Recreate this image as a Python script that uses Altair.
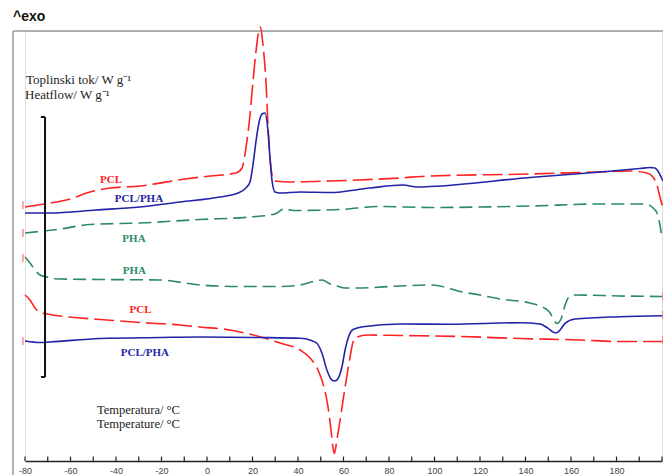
import altair as alt
import pandas as pd

# ---- data: temperature (°C) and heat flow (a.u., exo up) ----
pcl_heat_T = [-80, -71.2, -60.2, -51.4, -42.6, -29.5, -9.7, 1.3, 12.7, 15.4, 17.1, 18.9, 20.2, 21.5, 22.6, 23.5,
              24.6, 26.0, 26.8, 27.7, 28.6, 29.9, 36.5, 54.1, 84.8, 98, 142, 171.4, 185.9, 193.4, 196, 197.8, 199.1, 200.4]
pcl_heat_hf = [2.54, 2.57, 2.62, 2.69, 2.73, 2.75, 2.82, 2.85, 2.88, 2.93, 3.13, 3.46, 3.79, 4.09, 4.28, 4.34,
               4.16, 3.76, 3.36, 3.03, 2.86, 2.80, 2.79, 2.80, 2.83, 2.85, 2.87, 2.89, 2.90, 2.88, 2.84, 2.76, 2.64, 2.53]

blend_heat_T = [-80, -69, -48.8, -29.5, -11.9, 5.7, 13.6, 17.1, 18.9, 20.2, 21.5, 22.9, 24.2, 25.5, 26.8, 27.7,
                28.6, 29.9, 32.1, 40.9, 54.1, 71.6, 86.2, 92.3, 98, 142, 175.8, 190.3, 194.7, 196.9, 198.2, 199.6, 200.4]
blend_heat_hf = [2.48, 2.48, 2.51, 2.54, 2.59, 2.64, 2.68, 2.73, 2.79, 2.96, 3.19, 3.39, 3.47, 3.48, 3.30, 3.03,
                 2.80, 2.69, 2.68, 2.69, 2.685, 2.73, 2.76, 2.74, 2.745, 2.835, 2.895, 2.925, 2.935, 2.93, 2.90, 2.84, 2.80]

pha_heat_T = [-80, -64.6, -51.4, -29.5, -3.1, 18.9, 29.9, 33.8, 35.6, 38.7, 58.5, 76, 98, 142, 172.7, 192.5,
              195.6, 197.8, 199.1, 200]
pha_heat_hf = [2.28, 2.32, 2.365, 2.38, 2.415, 2.44, 2.47, 2.52, 2.515, 2.505, 2.515, 2.545, 2.535, 2.55, 2.57,
               2.57, 2.54, 2.48, 2.36, 2.23]

pha_cool_T = [-80, -77.8, -75.6, -73.4, -70.3, -64.6, -47, -20.7, -9.7, -3.1, 14.5, 32.1, 40.9, 47.5, 50.5, 54.1,
              57.1, 60.7, 65.9, 84.8, 98, 102.4, 111.2, 120, 128.8, 142, 146.4, 149, 150.8, 152.5, 153.8, 155.6,
              157.4, 159.1, 161.8, 181.5, 200]
pha_cool_hf = [2.04, 1.98, 1.91, 1.86, 1.84, 1.82, 1.815, 1.81, 1.78, 1.76, 1.745, 1.745, 1.76, 1.80, 1.81, 1.77,
               1.75, 1.73, 1.73, 1.75, 1.76, 1.75, 1.695, 1.66, 1.62, 1.58, 1.55, 1.52, 1.48, 1.41, 1.375, 1.42,
               1.56, 1.64, 1.66, 1.65, 1.645]

pcl_cool_T = [-80, -77.8, -75.6, -73.4, -70.3, -64.6, -55.8, -47, -29.5, -11.9, -3.1, 10.1, 22, 32.1, 40.9, 45.3,
              48.8, 51.4, 53.2, 54.5, 55.4, 56, 57.1, 58.5, 60.7, 62.9, 64.2, 66, 70.3, 84.8, 111.2, 137.6, 164,
              181.5, 200]
pcl_cool_hf = [1.66, 1.61, 1.53, 1.485, 1.47, 1.45, 1.43, 1.415, 1.385, 1.36, 1.34, 1.31, 1.25, 1.18, 1.11, 1.03,
               0.91, 0.74, 0.54, 0.31, 0.13, 0.075, 0.21, 0.41, 0.74, 1.04, 1.19, 1.24, 1.26, 1.255, 1.245, 1.225,
               1.21, 1.195, 1.195]

blend_cool_T = [-80, -73.4, -69, -47, -20.7, -3.1, 23.3, 40.9, 45.3, 48.4, 50.5, 52.7, 54.5, 55.8, 57.1, 59.3,
                60.7, 62.2, 64.2, 68.6, 84.8, 106.8, 137.6, 146.4, 149.9, 152.1, 153.4, 155.2, 157.4, 161.8, 181.5, 200]
blend_cool_hf = [1.20, 1.185, 1.19, 1.225, 1.235, 1.24, 1.235, 1.227, 1.21, 1.175, 1.08, 0.91, 0.82, 0.80, 0.81,
                 0.94, 1.11, 1.24, 1.315, 1.343, 1.37, 1.367, 1.383, 1.37, 1.327, 1.29, 1.28, 1.31, 1.377, 1.42,
                 1.443, 1.453]

# curve labels: text, temperature, heat flow
label_texts = ["PCL", "PCL/PHA", "PHA", "PHA", "PCL", "PCL/PHA"]
label_T = [-42.2, -29.9, -32.1, -31.9, -29.2, -27.3]
label_hf = [2.81, 2.62, 2.225, 1.905, 1.51, 1.085]

# small red segment markers at the start / end of the runs
marker_T = [-80.9, -80.9, -80.9, -80.9, 200.4, 200.4, 200.4]
marker_hf = [2.56, 2.28, 2.03, 1.20, 1.645, 1.46, 1.21]

tick_values = list(range(-80, 201, 10))
label_values = list(range(-80, 181, 20))

# heat-flow scale bar
bar_T = -71.2
bar_hf_low, bar_hf_high = 0.84, 3.44

RED = "#ff2222"
BLUE = "#2323a8"
GREEN = "#2a8a64"

xscale = alt.Scale(domain=[-80, 200], nice=False, zero=False)
yscale = alt.Scale(domain=[0, 4.3], nice=False, zero=False)
xaxis = alt.Axis(values=label_values, ticks=False, grid=False, domainColor="#222222", domainWidth=1.5,
                 labelFontSize=9, labelColor="#444444", labelFont="Liberation Sans", labelPadding=5,
                 title=None, labelFlush=False, labelExpr="'' + datum.value")

curves = [
    (pcl_heat_T, pcl_heat_hf, RED, [20, 6]),
    (blend_heat_T, blend_heat_hf, BLUE, None),
    (pha_heat_T, pha_heat_hf, GREEN, [13, 6]),
    (pha_cool_T, pha_cool_hf, GREEN, [13, 6]),
    (pcl_cool_T, pcl_cool_hf, RED, [20, 6]),
    (blend_cool_T, blend_cool_hf, BLUE, None),
]

layers = []

# frame
frame_df = pd.DataFrame({"k": [0]})
frame_style = dict(color="#999999", strokeWidth=1.5)
layers.append(alt.Chart(frame_df).mark_rule(**frame_style).encode(x=alt.value(-12), x2=alt.value(639), y=alt.value(0)))
layers.append(alt.Chart(frame_df).mark_rule(**frame_style).encode(x=alt.value(-12), y=alt.value(0), y2=alt.value(460)))
layers.append(alt.Chart(frame_df).mark_rule(**frame_style).encode(x=alt.value(639), y=alt.value(0), y2=alt.value(460)))

for T, hf, color, dash in curves:
    df = pd.DataFrame({"T": T, "hf": hf})
    kw = dict(color=color, strokeWidth=1.6, interpolate="monotone")
    if dash:
        kw["strokeDash"] = dash
    layers.append(alt.Chart(df).mark_line(**kw).encode(
        x=alt.X("T:Q", scale=xscale, axis=xaxis),
        y=alt.Y("hf:Q", scale=yscale, axis=None),
        order="T:Q"))

# start / end markers
mk_df = pd.DataFrame({"T": marker_T, "lo": [h - 0.04 for h in marker_hf], "hi": [h + 0.04 for h in marker_hf]})
layers.append(alt.Chart(mk_df).mark_rule(color=RED, strokeWidth=1, opacity=0.8).encode(
    x=alt.X("T:Q", scale=xscale), y=alt.Y("lo:Q", scale=yscale), y2="hi:Q"))

# axis ticks pointing up
tick_df = pd.DataFrame({"T": tick_values, "y0": [0.0] * len(tick_values), "y1": [0.045] * len(tick_values)})
layers.append(alt.Chart(tick_df).mark_rule(color="#222222", strokeWidth=1.2).encode(
    x=alt.X("T:Q", scale=xscale), y=alt.Y("y0:Q", scale=yscale), y2="y1:Q"))

# scale bar
bar_df = pd.DataFrame({"T": [bar_T], "lo": [bar_hf_low], "hi": [bar_hf_high]})
layers.append(alt.Chart(bar_df).mark_rule(color="#111111", strokeWidth=2).encode(
    x=alt.X("T:Q", scale=xscale), y=alt.Y("lo:Q", scale=yscale), y2="hi:Q"))
serif_df = pd.DataFrame({"T0": [bar_T - 1.8, bar_T - 1.8], "T1": [bar_T, bar_T], "hf": [bar_hf_low, bar_hf_high]})
layers.append(alt.Chart(serif_df).mark_rule(color="#111111", strokeWidth=2).encode(
    x=alt.X("T0:Q", scale=xscale), x2="T1:Q", y=alt.Y("hf:Q", scale=yscale)))

# curve labels
label_colors = [RED, BLUE, GREEN, GREEN, RED, BLUE]
for txt, t, h, c in zip(label_texts, label_T, label_hf, label_colors):
    ldf = pd.DataFrame({"T": [t], "hf": [h], "txt": [txt]})
    layers.append(alt.Chart(ldf).mark_text(font="Liberation Serif", fontSize=11, fontWeight="bold", color=c,
                                           align="center", baseline="middle").encode(
        x=alt.X("T:Q", scale=xscale), y=alt.Y("hf:Q", scale=yscale), text="txt:N"))

# annotation texts
ann = [
    ("Toplinski tok/ W g\u207b\u00b9", 1, 49, "Liberation Serif", 13, "normal", "#222222"),
    ("Heatflow/ W g\u207b\u00b9", 0, 64, "Liberation Serif", 13, "normal", "#222222"),
    ("Temperatura/ \u00b0C", 72, 378.5, "Liberation Serif", 12.5, "normal", "#222222"),
    ("Temperature/ \u00b0C", 72, 392.5, "Liberation Serif", 12.5, "normal", "#222222"),
    ("^exo", -12, -14, "Liberation Sans", 14, "bold", "#111111"),
]
for txt, px, py, font, fs, fw, col in ann:
    layers.append(alt.Chart(frame_df).mark_text(font=font, fontSize=fs, fontWeight=fw, color=col,
                                                align="left", baseline="middle").encode(
        x=alt.value(px), y=alt.value(py), text=alt.value(txt)))

chart = alt.layer(*layers).properties(
    width=637, height=430,
    autosize=alt.AutoSizeParams(type="none"),
    padding={"left": 17, "top": 23, "right": 1, "bottom": 14},
).configure_view(stroke=None).configure(background="white")

chart.save("out.html", embed_options={"renderer": "svg", "actions": False})
